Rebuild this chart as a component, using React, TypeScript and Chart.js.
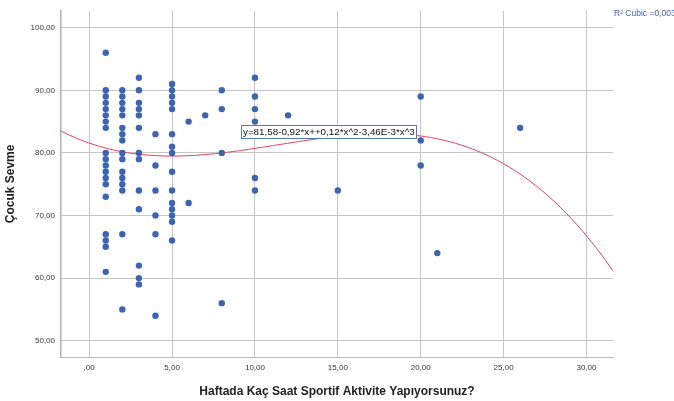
import React, { useEffect, useRef } from "react";
import { Chart, registerables } from "chart.js";

Chart.register(...registerables);

// Scatter data: hours of sport per week (x) vs. "Çocuk Sevme" score (y)
const xValues = [
  1, 1, 1, 1, 1, 1, 1, 1, 1, 1, 1, 1, 1, 1, 1, 1, 1, 1, 1,
  2, 2, 2, 2, 2, 2, 2, 2, 2, 2, 2, 2, 2, 2, 2, 2,
  3, 3, 3, 3, 3, 3, 3, 3, 3, 3, 3, 3, 3,
  4, 4, 4, 4, 4, 4,
  5, 5, 5, 5, 5, 5, 5, 5, 5, 5, 5, 5, 5, 5, 5,
  6, 6,
  7,
  8, 8, 8, 8,
  10, 10, 10, 10, 10, 10,
  12,
  15,
  20, 20, 20,
  21,
  26,
];
const yValues = [
  96, 90, 89, 88, 87, 86, 85, 84, 80, 79, 78, 77, 76, 75, 73, 67, 66, 65, 61,
  90, 89, 88, 87, 86, 84, 83, 82, 80, 79, 77, 76, 75, 74, 67, 55,
  92, 90, 88, 87, 86, 84, 80, 79, 74, 71, 62, 60, 59,
  83, 78, 74, 70, 67, 54,
  91, 90, 89, 88, 87, 83, 81, 80, 77, 74, 72, 71, 70, 69, 66,
  85, 72,
  86,
  90, 87, 80, 56,
  92, 89, 87, 85, 76, 74,
  86,
  74,
  89, 82, 78,
  64,
  84,
];

// Cubic fit shown on the chart: y = b0 + b1 x + b2 x^2 + b3 x^3
const fitCoefficients = [81.58, -0.92, 0.118, -3.46e-3];
const fitLabel = "y=81,58-0,92*x++0,12*x^2-3,46E-3*x^3";
const legendLabel = "R² Cubic =0,003";

const xTicks = [0, 5, 10, 15, 20, 25, 30];
const xTickLabels = [",00", "5,00", "10,00", "15,00", "20,00", "25,00", "30,00"];
const yTicks = [50, 60, 70, 80, 90, 100];
const yTickLabels = ["50,00", "60,00", "70,00", "80,00", "90,00", "100,00"];

const xTitle = "Haftada Kaç Saat Sportif Aktivite Yapıyorsunuz?";
const yTitle = "Çocuk Sevme";

const X_MIN = -1.7;
const X_MAX = 31.6;
const Y_MIN = 47.4;
const Y_MAX = 102.7;

const FONT = "'Liberation Sans', Arial, sans-serif";

function fitAt(x: number): number {
  return fitCoefficients.reduce((s, c, i) => s + c * Math.pow(x, i), 0);
}

export default function App() {
  const ref = useRef<HTMLCanvasElement | null>(null);

  useEffect(() => {
    if (!ref.current) return;
    const points = xValues.map((x, i) => ({ x, y: yValues[i] }));
    const curve: { x: number; y: number }[] = [];
    const steps = 200;
    for (let i = 0; i <= steps; i++) {
      const x = X_MIN + ((X_MAX - X_MIN) * i) / steps;
      curve.push({ x, y: fitAt(x) });
    }

    const annotations = {
      id: "annotations",
      afterDatasetsDraw(chart: any) {
        const { ctx } = chart;
        ctx.save();
        // equation box
        const bx = 241.5, by = 125.5, bw = 175, bh = 13;
        ctx.fillStyle = "#ffffff";
        ctx.fillRect(bx, by, bw, bh);
        ctx.strokeStyle = "#5577bb";
        ctx.lineWidth = 1;
        ctx.strokeRect(bx, by, bw, bh);
        let size = 9;
        ctx.font = `${size}px ${FONT}`;
        const w = ctx.measureText(fitLabel).width;
        const target = bw - 3;
        size = (size * target) / w;
        ctx.font = `${size}px ${FONT}`;
        ctx.fillStyle = "#111111";
        ctx.textBaseline = "middle";
        ctx.textAlign = "left";
        ctx.fillText(fitLabel, bx + 1.5, by + bh / 2 + 0.5);
        // legend top-right
        ctx.font = `8.5px ${FONT}`;
        ctx.fillStyle = "#3f62ad";
        ctx.textBaseline = "middle";
        ctx.fillText(legendLabel, 614, 14);
        ctx.restore();
      },
    };

    const chart = new Chart(ref.current, {
      type: "scatter",
      data: {
        datasets: [
          {
            label: "points",
            data: points,
            backgroundColor: "#3d64b1",
            borderColor: "#3d64b1",
            borderWidth: 0,
            pointRadius: 3.2,
            pointHoverRadius: 3.2,
            order: 1,
          },
          {
            label: "fit",
            type: "line",
            data: curve,
            borderColor: "#e0405f",
            borderWidth: 1,
            pointRadius: 0,
            fill: false,
            tension: 0,
            order: 2,
          } as any,
        ],
      },
      options: {
        animation: false,
        responsive: false,
        maintainAspectRatio: false,
        events: [],
        layout: { padding: { top: 7, right: 61, left: 0, bottom: 0 } },
        plugins: {
          legend: { display: false },
          tooltip: { enabled: false },
          title: { display: false },
        },
        scales: {
          x: {
            type: "linear",
            min: X_MIN,
            max: X_MAX,
            afterBuildTicks: (scale: any) => {
              scale.ticks = xTicks.map((v) => ({ value: v }));
            },
            afterFit: (scale: any) => {
              scale.height = 44;
            },
            grid: { color: "#c6c6c6", lineWidth: 1, drawTicks: false },
            border: { display: true, color: "#b8b8b8", width: 1 },
            ticks: {
              padding: 6,
              color: "#333333",
              font: { family: FONT, size: 8 },
              autoSkip: false,
              maxRotation: 0,
              callback: (v: any) => {
                const i = xTicks.indexOf(Number(v));
                return i >= 0 ? xTickLabels[i] : "";
              },
            },
            title: {
              display: true,
              text: xTitle,
              color: "#222222",
              font: { family: FONT, size: 12, weight: "bold" },
              padding: { top: 0, bottom: 2 },
            },
          },
          y: {
            type: "linear",
            min: Y_MIN,
            max: Y_MAX,
            afterBuildTicks: (scale: any) => {
              scale.ticks = yTicks.map((v) => ({ value: v }));
            },
            afterFit: (scale: any) => {
              scale.width = 61;
            },
            grid: { color: "#c6c6c6", lineWidth: 1, drawTicks: false },
            border: { display: true, color: "#b0b0b0", width: 1.5 },
            ticks: {
              padding: 6,
              color: "#333333",
              font: { family: FONT, size: 8 },
              autoSkip: false,
              callback: (v: any) => {
                const i = yTicks.indexOf(Number(v));
                return i >= 0 ? yTickLabels[i] : "";
              },
            },
            title: {
              display: true,
              text: yTitle,
              color: "#222222",
              font: { family: FONT, size: 12, weight: "bold" },
              padding: { top: 3, bottom: 0 },
            },
          },
        },
      },
      plugins: [annotations],
    });
    return () => chart.destroy();
  }, []);

  return (
    <div style={{ position: "absolute", left: 0, top: 0, width: 674, height: 401, background: "#ffffff" }}>
      <canvas ref={ref} width={674} height={401} style={{ width: 674, height: 401, display: "block" }} />
    </div>
  );
}
